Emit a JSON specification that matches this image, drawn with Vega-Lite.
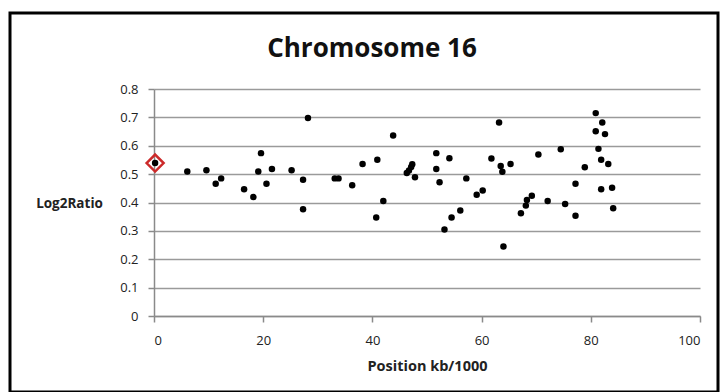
{
  "$schema": "https://vega.github.io/schema/vega-lite/v6.json",
  "autosize": "none",
  "width": 708,
  "height": 379,
  "padding": {"left": 10, "top": 13, "right": 8, "bottom": 0},
  "background": "white",
  "title": {
    "text": "Chromosome 16",
    "font": "Open Sans",
    "fontSize": 26,
    "fontWeight": "bold",
    "color": "#111111",
    "anchor": "middle",
    "baseline": "middle",
    "offset": -62,
    "dx": 8
  },
  "config": {
    "view": {"stroke": "#000000", "strokeWidth": 3},
    "axis": {
      "labelFont": "Open Sans",
      "labelFontSize": 13,
      "labelColor": "#222222",
      "titleFont": "Open Sans",
      "titleFontSize": 13.5,
      "titleFontWeight": "bold",
      "titleColor": "#222222",
      "domainColor": "#8a8a8a",
      "domainWidth": 1.5,
      "tickColor": "#8a8a8a",
      "tickWidth": 1.5,
      "tickSize": 6,
      "gridColor": "#9a9a9a",
      "gridWidth": 1.5
    }
  },
  "datasets": {
    "probes": [
      {"pos": 0.2, "ratio": 0.539},
      {"pos": 6.1, "ratio": 0.509},
      {"pos": 9.6, "ratio": 0.514},
      {"pos": 11.3, "ratio": 0.466},
      {"pos": 12.3, "ratio": 0.485},
      {"pos": 16.5, "ratio": 0.447},
      {"pos": 18.2, "ratio": 0.419},
      {"pos": 19.1, "ratio": 0.509},
      {"pos": 19.6, "ratio": 0.574},
      {"pos": 20.6, "ratio": 0.466},
      {"pos": 21.6, "ratio": 0.518},
      {"pos": 25.2, "ratio": 0.514},
      {"pos": 27.3, "ratio": 0.48},
      {"pos": 27.3, "ratio": 0.376},
      {"pos": 28.2, "ratio": 0.698},
      {"pos": 33.1, "ratio": 0.485},
      {"pos": 33.8, "ratio": 0.485},
      {"pos": 36.3, "ratio": 0.461},
      {"pos": 38.2, "ratio": 0.536},
      {"pos": 40.7, "ratio": 0.347},
      {"pos": 40.9, "ratio": 0.551},
      {"pos": 42.0, "ratio": 0.405},
      {"pos": 43.8, "ratio": 0.636},
      {"pos": 46.3, "ratio": 0.504},
      {"pos": 46.7, "ratio": 0.513},
      {"pos": 47.1, "ratio": 0.525},
      {"pos": 47.3, "ratio": 0.535},
      {"pos": 47.8, "ratio": 0.489},
      {"pos": 51.7, "ratio": 0.574},
      {"pos": 51.7, "ratio": 0.518},
      {"pos": 52.3, "ratio": 0.471},
      {"pos": 53.2, "ratio": 0.305},
      {"pos": 54.1, "ratio": 0.556},
      {"pos": 54.5, "ratio": 0.347},
      {"pos": 56.1, "ratio": 0.372},
      {"pos": 57.2, "ratio": 0.485},
      {"pos": 59.1, "ratio": 0.427},
      {"pos": 60.2, "ratio": 0.442},
      {"pos": 61.8, "ratio": 0.555},
      {"pos": 63.2, "ratio": 0.682},
      {"pos": 63.5, "ratio": 0.529},
      {"pos": 63.8, "ratio": 0.508},
      {"pos": 64.0, "ratio": 0.245},
      {"pos": 65.3, "ratio": 0.536},
      {"pos": 67.2, "ratio": 0.362},
      {"pos": 68.1, "ratio": 0.389},
      {"pos": 68.3, "ratio": 0.409},
      {"pos": 69.2, "ratio": 0.424},
      {"pos": 70.4, "ratio": 0.569},
      {"pos": 72.1, "ratio": 0.405},
      {"pos": 74.5, "ratio": 0.588},
      {"pos": 75.3, "ratio": 0.395},
      {"pos": 77.2, "ratio": 0.466},
      {"pos": 77.2, "ratio": 0.353},
      {"pos": 78.9, "ratio": 0.524},
      {"pos": 80.9, "ratio": 0.715},
      {"pos": 80.9, "ratio": 0.651},
      {"pos": 81.4, "ratio": 0.589},
      {"pos": 81.9, "ratio": 0.447},
      {"pos": 81.9, "ratio": 0.551},
      {"pos": 82.1, "ratio": 0.682},
      {"pos": 82.6, "ratio": 0.641},
      {"pos": 83.2, "ratio": 0.536},
      {"pos": 83.9, "ratio": 0.452},
      {"pos": 84.1, "ratio": 0.38}
    ],
    "selected": [
      {"pos": 0.2, "ratio": 0.539}
    ]
  },
  "encoding": {
    "x": {
      "field": "pos",
      "type": "quantitative",
      "title": "Position kb/1000",
      "scale": {"domain": [0, 100], "range": [144, 690], "nice": false, "zero": false},
      "axis": {
        "values": [0, 20, 40, 60, 80, 100],
        "offset": -76,
        "grid": false,
        "labelPadding": 12,
        "titleFontSize": 14.5,
        "titleY": 50,
        "titleBaseline": "middle"
      }
    },
    "y": {
      "field": "ratio",
      "type": "quantitative",
      "title": "Log2Ratio",
      "scale": {"domain": [0, 0.8], "range": [303, 76], "nice": false, "zero": false},
      "axis": {
        "values": [0, 0.1, 0.2, 0.3, 0.4, 0.5, 0.6, 0.7, 0.8],
        "format": ".1~f",
        "offset": -144,
        "grid": true,
        "labelPadding": 10,
        "titleAngle": 0,
        "titleAlign": "center",
        "titleBaseline": "middle",
        "titleX": -85,
        "titleY": 190
      }
    }
  },
  "layer": [
    {
      "data": {"name": "probes"},
      "mark": {"type": "circle", "size": 42, "color": "#000000", "opacity": 1}
    },
    {
      "data": {"name": "selected"},
      "mark": {"type": "point", "shape": "diamond", "size": 290, "filled": false, "stroke": "#cc2a2a", "strokeWidth": 2.5, "opacity": 1}
    }
  ]
}
